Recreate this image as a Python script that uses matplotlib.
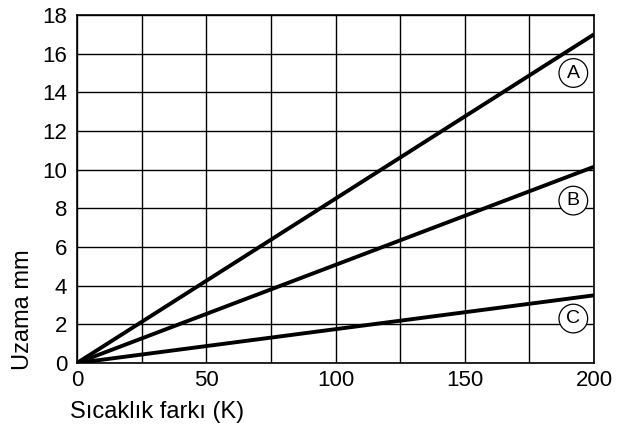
import matplotlib
matplotlib.use("Agg")
import matplotlib.pyplot as plt

plt.rcParams['font.family'] = ['Liberation Sans', 'DejaVu Sans']

x_vals = [0, 200]
series_names = ["A", "B", "C"]
series_A = [0, 17.0]
series_B = [0, 10.15]
series_C = [0, 3.5]
label_pos_x = [192, 192, 192]
label_pos_y = [15.0, 8.4, 2.3]
x_ticks = [0, 50, 100, 150, 200]
y_ticks = [0, 2, 4, 6, 8, 10, 12, 14, 16, 18]

W, H = 617, 432
fig = plt.figure(figsize=(W/100, H/100), dpi=100)
ax = fig.add_axes([77/W, 1-363/H, (594-77)/W, (363-15)/H])

for s in (series_A, series_B, series_C):
    ax.plot(x_vals, s, color='black', lw=2.8, solid_capstyle='butt', zorder=3)

for name, lx, ly in zip(series_names, label_pos_x, label_pos_y):
    ax.text(lx, ly, name, ha='center', va='center', fontsize=14,
            bbox=dict(boxstyle='circle,pad=0.3', fc='white', ec='black', lw=0.9), zorder=4)

ax.set_xlim(0, 200)
ax.set_ylim(0, 18)
ax.set_xticks(x_ticks)
ax.set_xticks(range(0, 201, 25), minor=True)
ax.set_yticks(y_ticks)
ax.grid(True, which='both', color='black', lw=1.0)
ax.tick_params(which='both', length=0, labelsize=16)
ax.tick_params(axis='x', pad=5)
ax.tick_params(axis='y', pad=7)
for sp in ax.spines.values():
    sp.set_linewidth(1.2)

fig.text(70/W, 1-412/H, "Sıcaklık farkı (K)", fontsize=17, ha='left', va='center')
fig.text(23/W, 1-370/H, "Uzama mm", fontsize=17, rotation=90, ha='center', va='bottom')

fig.savefig("out.png", dpi=100)
